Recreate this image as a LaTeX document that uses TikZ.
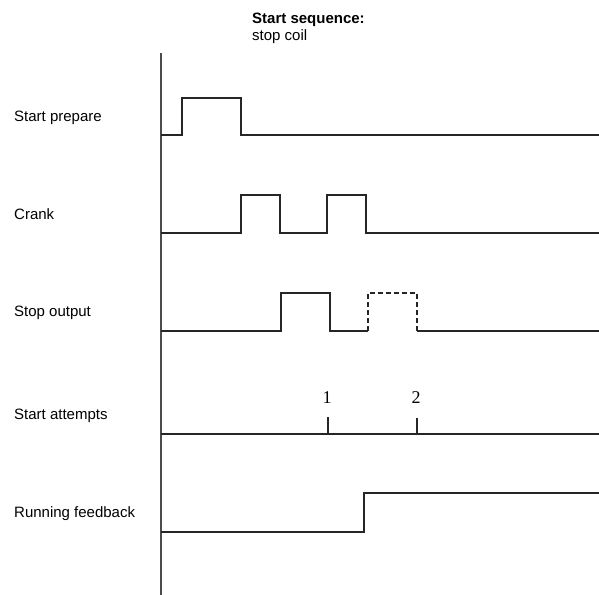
\documentclass[tikz,border=0pt]{standalone}
\usepackage{fontspec}
\setmainfont{Liberation Sans}
\newfontfamily\numfont{Liberation Serif}
\begin{document}
\begin{tikzpicture}[x=1bp,y=-1bp,
  sig/.style={line width=1.2bp, draw=black!85, line join=miter},
  future/.style={sig, dash pattern=on 5bp off 3bp},
  axisline/.style={line width=1.5bp, draw=black!70},
  lbl/.style={anchor=base west, inner sep=0pt, font=\fontsize{15bp}{18bp}\selectfont},
  cnt/.style={anchor=base, inner sep=0pt, font=\numfont\fontsize{18bp}{20bp}\selectfont}]
\useasboundingbox (0,0) rectangle (599,595);

% heading
\node[lbl, font=\bfseries\fontsize{15bp}{18bp}\selectfont] (head) at (252,24) {Start sequence:};
\node[lbl] (sub) at (252,41) {stop coil};

% signal names
\node[lbl] (nprep)  at (14,122) {Start prepare};
\node[lbl] (ncrank) at (14,219) {Crank};
\node[lbl] (nstop)  at (14,316) {Stop output};
\node[lbl] (natt)   at (14,419) {Start attempts};
\node[lbl] (nrun)   at (14,517) {Running feedback};

% time axis
\draw[axisline] (161,53) -- (161,595);

% Start prepare
\draw[sig] (161,135) -- (182,135) -- (182,98) -- (241,98) -- (241,135) -- (599,135);

% Crank
\draw[sig] (161,233) -- (241,233) -- (241,195) -- (280,195) -- (280,233)
  -- (327,233) -- (327,195) -- (366,195) -- (366,233) -- (599,233);

% Stop output (second pulse only if needed)
\draw[sig] (161,331) -- (281,331) -- (281,293) -- (330,293) -- (330,331) -- (368,331);
\draw[future] (368,331) -- (368,293) -- (417,293) -- (417,331);
\draw[sig] (417,331) -- (599,331);

% Start attempts
\draw[sig] (161,434) -- (599,434);
\coordinate (t1) at (328,434);
\coordinate (t2) at (417,434);
\draw[sig] (t1) -- ++(0,-17);
\draw[sig] (t2) -- ++(0,-16);
\node[cnt] (c1) at (327,403) {1};
\node[cnt] (c2) at (416,403) {2};

% Running feedback
\draw[sig] (161,532) -- (364,532) -- (364,493) -- (599,493);
\end{tikzpicture}
\end{document}
